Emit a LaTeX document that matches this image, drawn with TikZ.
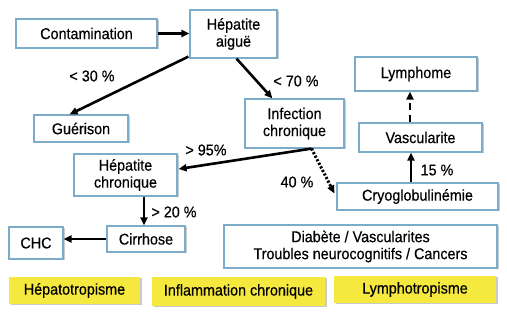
\documentclass[tikz,border=0pt]{standalone}
\usepackage{fontspec}
\setmainfont{Liberation Sans}[FakeStretch=0.92, FakeBold=0.4]
\usetikzlibrary{arrows.meta,calc,shadows}
\definecolor{bordblue}{RGB}{125,172,200}
\definecolor{yel}{RGB}{245,232,62}
\tikzset{
  box/.style={draw=bordblue, line width=1.2pt, fill=white, inner sep=0pt, align=center,
    font=\fontsize{15.6}{17}\selectfont,
    drop shadow={shadow xshift=1.5pt, shadow yshift=-1.5pt, fill=black!35, opacity=0.6}},
  ybox/.style={fill=yel, inner sep=0pt, align=center, font=\fontsize{15.6}{17}\selectfont,
    drop shadow={shadow xshift=1.5pt, shadow yshift=-1.5pt, fill=black!35, opacity=0.6}},
  arr/.style={line width=2.6pt, -{Triangle[length=8pt,width=7pt]}},
  dotarr/.style={line width=3pt, dash pattern=on 2.2pt off 1.8pt, -{Triangle[length=8pt,width=7pt]}},
  dasharr/.style={line width=2.6pt, dash pattern=on 7pt off 5pt, -{Triangle[length=8pt,width=7pt]}},
  lab/.style={font=\fontsize{15.6}{17}\selectfont, inner sep=0pt}
}
\begin{document}
\begin{tikzpicture}[x=1pt,y=-1pt]
\useasboundingbox (0,0) rectangle (507,318);
\node[box, minimum width=141pt, minimum height=29pt] (cont) at (86.5,33.5) {Contamination};
\node[box, minimum width=87pt, minimum height=48pt] (aigue) at (233.5,34) {Hépatite\\aiguë};
\node[box, minimum width=94pt, minimum height=27pt] (guer) at (81,128.5) {Guérison};
\node[box, minimum width=99pt, minimum height=49pt] (infc) at (294.5,123.5) {Infection\\chronique};
\node[box, minimum width=122pt, minimum height=34pt] (lymph) at (416,74) {Lymphome};
\node[box, minimum width=123pt, minimum height=29pt] (vasc) at (420.5,137.5) {Vascularite};
\node[box, minimum width=161pt, minimum height=27pt] (cryo) at (417.5,196.5) {Cryoglobulinémie};
\node[box, minimum width=103pt, minimum height=42pt] (hepc) at (125.5,175) {Hépatite\\chronique};
\node[box, minimum width=78pt, minimum height=26pt] (cirr) at (146,239) {Cirrhose};
\node[box, minimum width=54pt, minimum height=32pt] (chc) at (36,243) {CHC};
\node[box, minimum width=273pt, minimum height=43pt] (diab) at (360.5,246.5) {Diabète / Vascularites\\Troubles neurocognitifs / Cancers};
\node[ybox, minimum width=131pt, minimum height=27pt] (y1) at (74.5,290.5) {Hépatotropisme};
\node[ybox, minimum width=173pt, minimum height=29pt] (y2) at (238.5,291.5) {Inflammation chronique};
\node[ybox, minimum width=162pt, minimum height=27pt] (y3) at (415,289.5) {Lymphotropisme};

\coordinate (vx) at (411,0);
\coordinate (lx) at (410,0);
\coordinate (hx) at (144,0);
\coordinate (ic) at ($(infc.south)+(17,0)$);

\draw[arr] (cont.east) -- (aigue.west |- cont.east);
\draw[arr] ($(aigue.south west)+(-1,-2)$) -- ($(guer.north west)!0.38!(guer.north east)$);
\draw[arr] ($(aigue.south)+(3,0)$) -- ($(infc.north west)+(28,0)$);
\draw[arr] (ic) -- ($(hepc.east)+(1,-6)$);
\draw[dotarr] (ic) -- ($(cryo.west)+(-2,-3)$);
\draw[arr] (cryo.north -| vx) -- (vasc.south -| vx);
\draw[dasharr] (vasc.north -| lx) -- (lymph.south -| lx);
\draw[arr] (hepc.south -| hx) -- (cirr.north -| hx);
\draw[arr] (cirr.west) -- (chc.east |- cirr.west);

\node[lab] (l30) at (92,76) {< 30 \%};
\node[lab] (l70) at (296,81) {< 70 \%};
\node[lab] (l95) at (206,150) {> 95\%};
\node[lab] (l40) at (297,182) {40 \%};
\node[lab] (l15) at (437,170) {15 \%};
\node[lab] (l20) at (174,212) {> 20 \%};
\end{tikzpicture}
\end{document}
